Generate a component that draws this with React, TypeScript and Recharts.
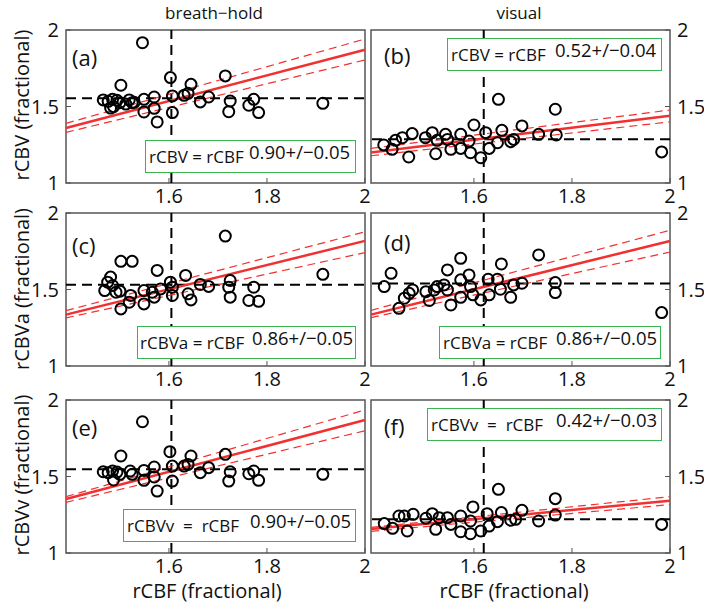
import React from 'react';
import { ScatterChart, Scatter, XAxis, YAxis, ReferenceLine, ReferenceArea } from 'recharts';

const FONT = '"Open Sans", "Noto Sans", sans-serif';
const RED = '#f23030';
const GREEN = '#3cb450';

// shared axes
const xDomain = [1.39, 2];
const yDomain = [1, 2];
const xTicks = [1.6, 1.8, 2];
const yTicks = [1, 1.5, 2];
const fitX = [1.39, 2]; // x ends of the fitted lines

// breath-hold rCBV (a)
const pointsA = [
  [1.546, 1.917], [1.502, 1.639], [1.466, 1.543], [1.476, 1.534], [1.485, 1.547], [1.494, 1.541],
  [1.5, 1.525], [1.487, 1.499], [1.481, 1.49], [1.512, 1.516], [1.529, 1.527], [1.519, 1.543],
  [1.525, 1.525], [1.549, 1.547], [1.549, 1.464], [1.57, 1.562], [1.57, 1.488], [1.576, 1.399],
  [1.603, 1.689], [1.607, 1.569], [1.607, 1.46], [1.631, 1.573], [1.639, 1.586], [1.645, 1.645],
  [1.664, 1.53], [1.681, 1.562], [1.715, 1.7], [1.725, 1.536], [1.722, 1.466], [1.763, 1.508],
  [1.773, 1.547], [1.783, 1.46], [1.914, 1.521],
];
// visual rCBV (b)
const pointsB = [
  [1.416, 1.249], [1.433, 1.22], [1.44, 1.279], [1.454, 1.296], [1.467, 1.17], [1.474, 1.323],
  [1.501, 1.296], [1.515, 1.329], [1.522, 1.191], [1.525, 1.279], [1.542, 1.318], [1.546, 1.285],
  [1.553, 1.22], [1.573, 1.318], [1.573, 1.226], [1.59, 1.274], [1.593, 1.198], [1.6, 1.379],
  [1.614, 1.165], [1.624, 1.329], [1.631, 1.226], [1.65, 1.547], [1.648, 1.263], [1.657, 1.344],
  [1.675, 1.27], [1.681, 1.285], [1.698, 1.373], [1.732, 1.318], [1.766, 1.482], [1.768, 1.314],
  [1.983, 1.203],
];
// breath-hold rCBVa (c)
const pointsC = [
  [1.715, 1.849], [1.502, 1.684], [1.525, 1.684], [1.576, 1.625], [1.481, 1.581], [1.475, 1.548],
  [1.485, 1.526], [1.469, 1.493], [1.492, 1.482], [1.5, 1.489], [1.502, 1.373], [1.522, 1.461],
  [1.519, 1.417], [1.549, 1.493], [1.549, 1.406], [1.566, 1.482], [1.57, 1.45], [1.583, 1.504],
  [1.603, 1.548], [1.607, 1.515], [1.607, 1.461], [1.634, 1.592], [1.639, 1.472], [1.645, 1.432],
  [1.664, 1.533], [1.681, 1.52], [1.725, 1.559], [1.722, 1.515], [1.725, 1.45], [1.773, 1.515],
  [1.763, 1.428], [1.783, 1.423], [1.914, 1.599],
];
// visual rCBVa (d)
const pointsD = [
  [1.573, 1.704], [1.732, 1.726], [1.431, 1.606], [1.417, 1.519], [1.546, 1.628], [1.656, 1.667],
  [1.447, 1.377], [1.458, 1.443], [1.468, 1.475], [1.475, 1.497], [1.502, 1.486], [1.509, 1.428],
  [1.519, 1.497], [1.525, 1.519], [1.539, 1.53], [1.546, 1.497], [1.553, 1.399], [1.573, 1.563],
  [1.573, 1.449], [1.59, 1.595], [1.593, 1.519], [1.598, 1.465], [1.614, 1.432], [1.629, 1.567],
  [1.631, 1.465], [1.648, 1.567], [1.654, 1.502], [1.675, 1.449], [1.681, 1.53], [1.698, 1.541],
  [1.766, 1.545], [1.766, 1.48], [1.983, 1.349],
];
// breath-hold rCBVv (e)
const pointsE = [
  [1.546, 1.858], [1.502, 1.634], [1.466, 1.531], [1.476, 1.525], [1.485, 1.536], [1.494, 1.529],
  [1.5, 1.514], [1.487, 1.477], [1.521, 1.536], [1.525, 1.514], [1.549, 1.54], [1.549, 1.475],
  [1.57, 1.562], [1.57, 1.497], [1.576, 1.405], [1.602, 1.662], [1.607, 1.568], [1.607, 1.47],
  [1.631, 1.568], [1.639, 1.579], [1.645, 1.634], [1.664, 1.525], [1.681, 1.558], [1.715, 1.645],
  [1.725, 1.531], [1.722, 1.47], [1.763, 1.518], [1.773, 1.536], [1.783, 1.475], [1.914, 1.514],
];
// visual rCBVv (f)
const pointsF = [
  [1.65, 1.416], [1.766, 1.355], [1.417, 1.192], [1.434, 1.161], [1.447, 1.242], [1.458, 1.242],
  [1.464, 1.144], [1.476, 1.253], [1.502, 1.227], [1.515, 1.257], [1.522, 1.155], [1.529, 1.231],
  [1.546, 1.231], [1.553, 1.187], [1.573, 1.242], [1.573, 1.139], [1.593, 1.209], [1.593, 1.126],
  [1.598, 1.301], [1.614, 1.144], [1.627, 1.257], [1.631, 1.176], [1.648, 1.205], [1.656, 1.264],
  [1.675, 1.214], [1.685, 1.22], [1.698, 1.279], [1.732, 1.209], [1.766, 1.248], [1.983, 1.187],
];

// fitted line y at fitX ends: mid, upper, lower
const fitA = { mid: [1.359, 1.871], hi: [1.39, 1.941], lo: [1.331, 1.804] };
const fitB = { mid: [1.2, 1.44], hi: [1.226, 1.477], lo: [1.178, 1.4] };
const fitC = { mid: [1.336, 1.818], hi: [1.362, 1.877], lo: [1.314, 1.741] };
const fitD = { mid: [1.336, 1.817], hi: [1.364, 1.887], lo: [1.316, 1.745] };
const fitE = { mid: [1.353, 1.869], hi: [1.368, 1.935], lo: [1.331, 1.799] };
const fitF = { mid: [1.157, 1.342], hi: [1.167, 1.368], lo: [1.141, 1.316] };

// dashed black cross lines
const crossA = { x: 1.605, y: 1.554 };
const crossB = { x: 1.62, y: 1.286 };
const crossC = { x: 1.605, y: 1.531 };
const crossD = { x: 1.62, y: 1.539 };
const crossE = { x: 1.605, y: 1.547 };
const crossF = { x: 1.62, y: 1.22 };

const PLOT_W = 299;
const PLOT_H = 153;
const Y_W = 50;
const PAD = 15;
const TOP = 20;

const Ring = (props: any) => {
  const { cx, cy } = props;
  if (cx == null || cy == null) return null;
  return <circle cx={cx} cy={cy} r={5.5} fill="none" stroke="#000" strokeWidth={2} />;
};

const tickStyle = { fill: '#111', fontSize: 20, fontFamily: FONT };

function Panel({ points, fit, cross, right, left, top, tag, tagPos, box }: any) {
  const data = points.map(([x, y]: number[]) => ({ x, y }));
  const seg = (ys: number[]) => [
    { x: fitX[0], y: ys[0] },
    { x: fitX[1], y: ys[1] },
  ];
  const chartLeft = right ? left - PAD : left - Y_W;
  return (
    <>
      <div style={{ position: 'absolute', left: chartLeft, top: top - TOP }}>
        <ScatterChart
          width={Y_W + PLOT_W + PAD}
          height={TOP + PLOT_H + 30}
          margin={{ top: TOP, bottom: 0, left: right ? PAD : 0, right: right ? 0 : PAD }}
        >
          <XAxis
            type="number"
            dataKey="x"
            domain={xDomain}
            ticks={xTicks}
            allowDataOverflow
            interval={0}
            height={30}
            axisLine={false}
            tickSize={-5}
            tickMargin={11}
            tickLine={{ stroke: '#555' }}
            tick={tickStyle}
          />
          <YAxis
            type="number"
            dataKey="y"
            orientation={right ? 'right' : 'left'}
            width={Y_W}
            domain={yDomain}
            ticks={yTicks}
            allowDataOverflow
            interval={0}
            axisLine={false}
            tickSize={-5}
            tickMargin={12}
            tickLine={{ stroke: '#555' }}
            tick={tickStyle}
          />
          <ReferenceArea x1={xDomain[0]} x2={xDomain[1]} y1={yDomain[0]} y2={yDomain[1]} fill="none" stroke="#555" strokeWidth={1.5} />
          <Scatter data={data} shape={<Ring />} isAnimationActive={false} />
          <ReferenceLine x={cross.x} stroke="#000" strokeWidth={2} strokeDasharray="10 6" />
          <ReferenceLine y={cross.y} stroke="#000" strokeWidth={2} strokeDasharray="10 6" />
          <ReferenceLine segment={seg(fit.hi)} stroke={RED} strokeWidth={1.2} strokeDasharray="8 5" />
          <ReferenceLine segment={seg(fit.lo)} stroke={RED} strokeWidth={1.2} strokeDasharray="8 5" />
          <ReferenceLine segment={seg(fit.mid)} stroke={RED} strokeWidth={2.5} />
        </ScatterChart>
      </div>
      <div style={{ position: 'absolute', left: tagPos[0], top: tagPos[1], fontSize: 22, lineHeight: '22px', fontFamily: FONT, color: '#111' }}>
        {tag}
      </div>
      <div
        style={{
          position: 'absolute',
          left: box.left,
          top: box.top,
          width: box.w,
          height: 33,
          boxSizing: 'border-box',
          border: `1.5px solid ${GREEN}`,
          background: '#fff',
          fontFamily: FONT,
          color: '#111',
        }}
      >
        <span style={{ position: 'absolute', left: box.lx, top: 5, fontSize: 17, lineHeight: '22px', whiteSpace: 'pre' }}>{box.label}</span>
        <span style={{ position: 'absolute', left: box.vx, top: 0, fontSize: 18.5, lineHeight: '22px', whiteSpace: 'pre' }}>{box.value}</span>
      </div>
    </>
  );
}

export default function App() {
  return (
    <div style={{ position: 'absolute', left: 0, top: 0, width: 704, height: 608, background: '#fff', overflow: 'hidden' }}>
      <svg width={704} height={608} style={{ position: 'absolute', left: 0, top: 0 }}>
        <g fontFamily={FONT} fill="#111">
          <text x={214} y={12} fontSize={17} textAnchor="middle" dominantBaseline="central">breath−hold</text>
          <text x={519} y={12} fontSize={17} textAnchor="middle" dominantBaseline="central">visual</text>
          <text x={207} y={590} fontSize={20} textAnchor="middle" dominantBaseline="central">rCBF (fractional)</text>
          <text x={514} y={590} fontSize={20} textAnchor="middle" dominantBaseline="central">rCBF (fractional)</text>
          <text transform="translate(21,105) rotate(-90)" fontSize={20} textAnchor="middle" dominantBaseline="central">rCBV (fractional)</text>
          <text transform="translate(21,289) rotate(-90)" fontSize={20} textAnchor="middle" dominantBaseline="central">rCBVa (fractional)</text>
          <text transform="translate(21,475) rotate(-90)" fontSize={20} textAnchor="middle" dominantBaseline="central">rCBVv (fractional)</text>
        </g>
      </svg>
      <Panel points={pointsA} fit={fitA} cross={crossA} left={66} top={29.5} tag="(a)" tagPos={[72, 46]}
        box={{ left: 145, top: 140, w: 211, lx: 3, vx: 103, label: 'rCBV = rCBF', value: '0.90+/−0.05' }} />
      <Panel points={pointsB} fit={fitB} cross={crossB} right left={371} top={29.5} tag="(b)" tagPos={[384, 44]}
        box={{ left: 447, top: 38, w: 215, lx: 3, vx: 107, label: 'rCBV = rCBF', value: '0.52+/−0.04' }} />
      <Panel points={pointsC} fit={fitC} cross={crossC} left={66} top={213} tag="(c)" tagPos={[72, 234]}
        box={{ left: 137, top: 326, w: 219, lx: 2, vx: 114, label: 'rCBVa = rCBF', value: '0.86+/−0.05' }} />
      <Panel points={pointsD} fit={fitD} cross={crossD} right left={371} top={213} tag="(d)" tagPos={[384, 231]}
        box={{ left: 439, top: 326, w: 222, lx: 3, vx: 116, label: 'rCBVa = rCBF', value: '0.86+/−0.05' }} />
      <Panel points={pointsE} fit={fitE} cross={crossE} left={66} top={399.5} tag="(e)" tagPos={[72, 416]}
        box={{ left: 123, top: 509, w: 233, lx: 3, vx: 126, label: 'rCBVv  =  rCBF', value: '0.90+/−0.05' }} />
      <Panel points={pointsF} fit={fitF} cross={crossF} right left={371} top={399.5} tag="(f)" tagPos={[384, 415]}
        box={{ left: 427, top: 408, w: 235, lx: 3, vx: 128, label: 'rCBVv  =  rCBF', value: '0.42+/−0.03' }} />
    </div>
  );
}
